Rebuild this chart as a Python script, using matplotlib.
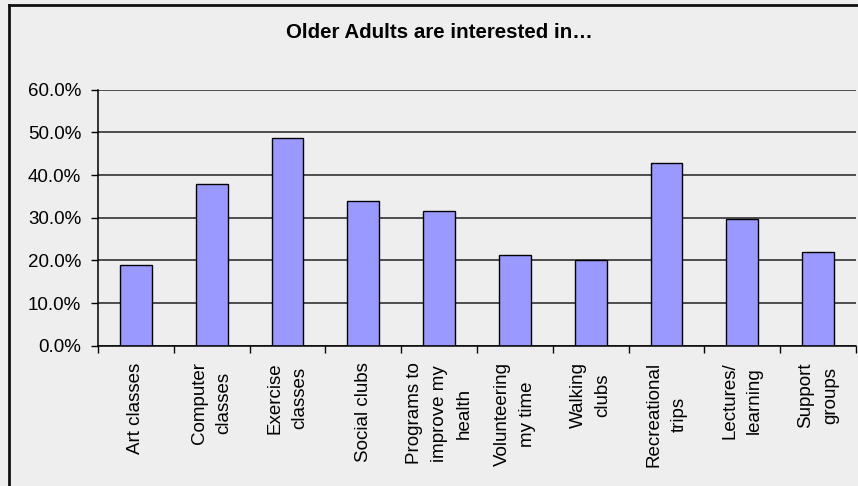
import matplotlib.pyplot as plt
from matplotlib.lines import Line2D
from matplotlib.ticker import FuncFormatter, FixedLocator

plt.rcParams['font.family'] = ['Liberation Sans', 'DejaVu Sans']

categories = ['Art classes', 'Computer\nclasses', 'Exercise\nclasses', 'Social clubs',
              'Programs to\nimprove my\nhealth', 'Volunteering\nmy time', 'Walking\nclubs',
              'Recreational\ntrips', 'Lectures/\nlearning', 'Support\ngroups']
shares = [18.9, 38.0, 48.7, 33.9, 31.6, 21.3, 20.2, 42.8, 29.8, 22.0]
y_ticks = [0, 10, 20, 30, 40, 50, 60]

BG = '#EEEEEE'

fig = plt.figure(figsize=(8.58, 4.86), dpi=100, facecolor=BG)
ax = fig.add_axes([98 / 858, 1 - 345.7 / 486, 758 / 858, 256 / 486], facecolor=BG)

x = range(len(categories))
ax.bar(x, shares, width=0.42, color='#9999FF', edgecolor='black', linewidth=1.0, zorder=3)

ax.set_xlim(-0.5, len(categories) - 0.5)
ax.set_ylim(0, 60)

# category boundaries get the tick marks, centres get the labels
ax.xaxis.set_major_locator(FixedLocator([i - 0.5 for i in range(len(categories) + 1)]))
ax.xaxis.set_minor_locator(FixedLocator(list(x)))
ax.set_xticklabels([], minor=False)
ax.set_xticklabels(categories, minor=True, rotation=90, fontsize=13.5,
                   ha='center', va='top', linespacing=1.6)
ax.tick_params(axis='x', which='major', direction='out', length=5, width=1, color='black')
ax.tick_params(axis='x', which='minor', length=0, pad=12)

ax.set_yticks(y_ticks)
ax.yaxis.set_major_formatter(FuncFormatter(lambda v, _: f'{v:.1f}%'))
ax.tick_params(axis='y', direction='out', length=5, width=1, color='black',
               labelsize=13.5, pad=7)

ax.grid(axis='y', color='#222222', linewidth=1.1, zorder=1)
for side in ('top', 'right'):
    ax.spines[side].set_visible(False)
for side in ('left', 'bottom'):
    ax.spines[side].set_color('black')
    ax.spines[side].set_linewidth(1.1)
    ax.spines[side].set_zorder(4)

fig.text(439 / 858, 1 - 33 / 486, 'Older Adults are interested in…', ha='center',
         va='center', fontsize=14.8, fontweight='bold')

# outer chart frame (left and top edges)
fig.add_artist(Line2D([9 / 858, 9 / 858], [0, 1 - 5 / 486], transform=fig.transFigure,
                      color='#111111', linewidth=2))
fig.add_artist(Line2D([9 / 858, 1], [1 - 5 / 486, 1 - 5 / 486], transform=fig.transFigure,
                      color='#111111', linewidth=2))

fig.savefig('out.png', dpi=100, facecolor=BG)
